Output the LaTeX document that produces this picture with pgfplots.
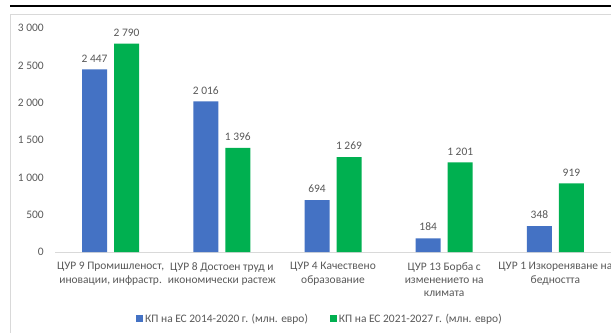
\documentclass[border=0pt]{standalone}
\usepackage{fontspec}
\setmainfont{Carlito}
\usepackage{pgfplots}
\pgfplotsset{compat=1.18}
\definecolor{cblue}{HTML}{4472C4}
\definecolor{cgreen}{HTML}{00B050}
\definecolor{tgray}{HTML}{595959}
\definecolor{lgray}{HTML}{D9D9D9}
\begin{document}
\begin{tikzpicture}[x=1bp,y=1bp]
\useasboundingbox (0,0) rectangle (611,332);
\clip (0,0) rectangle (611,332);
\fill[white] (0,0) rectangle (611,332);
\draw[black, line width=1.2bp] (10,326) -- (611,326);
\draw[lgray, line width=1bp] (10.5,-1) -- (10.5,317) -- (612,317);
\begin{axis}[
  at={(55bp,80bp)}, anchor=south west,
  scale only axis, width=556bp, height=224bp,
  xmin=-0.5, xmax=4.5, ymin=0, ymax=3000,
  ybar=7bp, bar width=25bp,
  clip=false,
  axis x line*=bottom, axis y line*=left,
  x axis line style={lgray, line width=0.8bp},
  y axis line style={draw=none},
  major tick length=0pt,
  font=\fontsize{11.5}{13.5}\selectfont,
  /pgf/number format/assume math mode=true,
  /pgf/number format/1000 sep={\ },
  ytick={0,500,...,3000},
  yticklabel style={anchor=east, inner sep=0pt, xshift=-11bp, text=tgray},
  xtick={0,1,2,3,4},
  xticklabels={{ЦУР 9 Промишленост,\\иновации, инфрастр.},{ЦУР 8 Достоен труд и\\икономически растеж},{ЦУР 4 Качествено\\образование},{ЦУР 13 Борба с\\изменението на\\климата},{ЦУР 1 Изкореняване на\\бедността}},
  xticklabel style={anchor=north, align=center, inner sep=0pt, yshift=-10bp, text=tgray},
  nodes near coords,
  every node near coord/.append style={anchor=south, inner sep=0pt, yshift=7bp, text=tgray, /pgf/number format/1000 sep={\ }},
  legend columns=2,
  legend style={at={(0.4766,-0.299)}, anchor=center, draw=none, fill=none, text=tgray,
    /tikz/every even column/.append style={column sep=20bp}},
  legend cell align=left,
]
\addplot[fill=cblue, draw=none, legend image code/.code={\fill[cblue] (0bp,-3.5bp) rectangle (7bp,3.5bp);}] coordinates {(0,2447) (1,2016) (2,694) (3,184) (4,348)};
\addplot[fill=cgreen, draw=none, legend image code/.code={\fill[cgreen] (0bp,-3.5bp) rectangle (7bp,3.5bp);}] coordinates {(0,2790) (1,1396) (2,1269) (3,1201) (4,919)};
\legend{КП на ЕС 2014-2020 г. (млн. евро), КП на ЕС 2021-2027 г. (млн. евро)}
\end{axis}
\end{tikzpicture}
\end{document}
